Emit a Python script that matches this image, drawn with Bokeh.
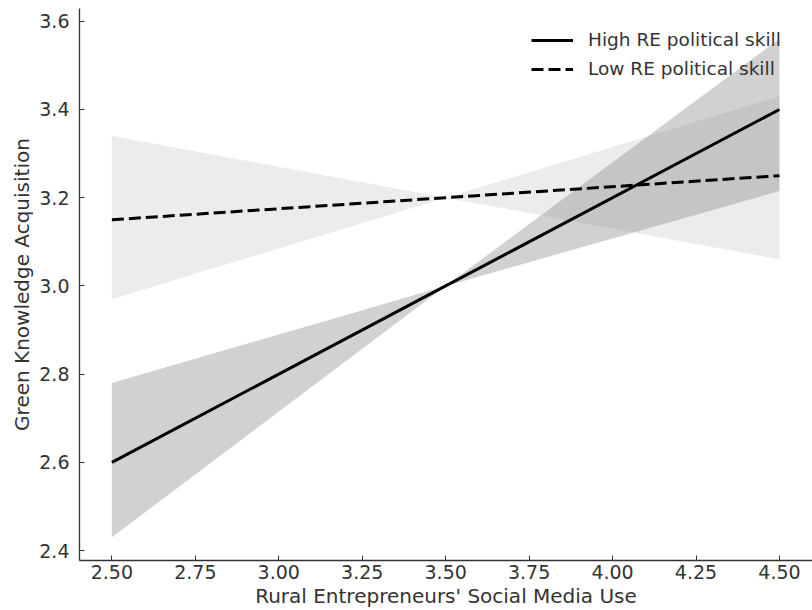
from bokeh.plotting import figure
from bokeh.models import FixedTicker, NumeralTickFormatter, Legend, LegendItem, Range1d
from bokeh.embed import file_html
from bokeh.resources import INLINE

# Data
x_vals = [2.5, 3.5, 4.5]
high_mean = [2.60, 3.00, 3.40]
high_lower = [2.43, 3.00, 3.215]
high_upper = [2.78, 3.00, 3.56]
low_mean = [3.15, 3.20, 3.25]
low_lower = [2.97, 3.20, 3.06]
low_upper = [3.34, 3.20, 3.43]

x_ticks = [2.5, 2.75, 3.0, 3.25, 3.5, 3.75, 4.0, 4.25, 4.5]
y_ticks = [2.4, 2.6, 2.8, 3.0, 3.2, 3.4, 3.6]

FONT = "DejaVu Sans"
TXT = "#333333"

p = figure(width=812, height=610, output_backend="svg", toolbar_location=None,
           x_range=Range1d(2.403, 4.599), y_range=Range1d(2.3774, 3.629),
           min_border_left=79, min_border_right=0, min_border_top=8, min_border_bottom=48)
p.outline_line_color = None
p.grid.visible = False
p.background_fill_color = "white"
p.border_fill_color = "white"

p.varea(x=x_vals, y1=low_lower, y2=low_upper, fill_color="#808080", fill_alpha=0.15)
p.varea(x=x_vals, y1=high_lower, y2=high_upper, fill_color="#808080", fill_alpha=0.36)

r_high = p.line(x_vals, high_mean, line_color="black", line_width=3)
r_low = p.line(x_vals, low_mean, line_color="black", line_width=3, line_dash="12 5")

legend = Legend(items=[LegendItem(label="High RE political skill", renderers=[r_high]),
                       LegendItem(label="Low RE political skill", renderers=[r_low])],
                location=(452, 481))
legend.border_line_color = None
legend.background_fill_alpha = 0
legend.margin = 0
legend.padding = 8
legend.spacing = 8
legend.glyph_width = 42
legend.glyph_height = 20
legend.label_height = 20
legend.label_standoff = 15
legend.label_text_font = FONT
legend.label_text_font_size = "18.5px"
legend.label_text_color = TXT
p.add_layout(legend)

for ax in (p.xaxis[0], p.yaxis[0]):
    ax.axis_line_color = TXT
    ax.axis_line_width = 1.3
    ax.major_tick_line_color = TXT
    ax.major_tick_in = 5
    ax.major_tick_out = 0
    ax.minor_tick_line_color = None
    ax.major_label_text_font = FONT
    ax.major_label_text_font_size = "19px"
    ax.major_label_text_color = TXT
    ax.axis_label_text_font = FONT
    ax.axis_label_text_font_size = "20px"
    ax.axis_label_text_font_style = "normal"
    ax.axis_label_text_color = TXT

p.xaxis.ticker = FixedTicker(ticks=x_ticks)
p.xaxis.formatter = NumeralTickFormatter(format="0.00")
p.yaxis.ticker = FixedTicker(ticks=y_ticks)
p.yaxis.formatter = NumeralTickFormatter(format="0.0")
p.xaxis.axis_label = "Rural Entrepreneurs' Social Media Use"
p.yaxis.axis_label = "Green Knowledge Acquisition"
p.xaxis.major_label_standoff = 4
p.xaxis.axis_label_standoff = 2
p.yaxis.major_label_standoff = 10
p.yaxis.axis_label_standoff = 2

open("out.html", "w").write(file_html(p, INLINE))
